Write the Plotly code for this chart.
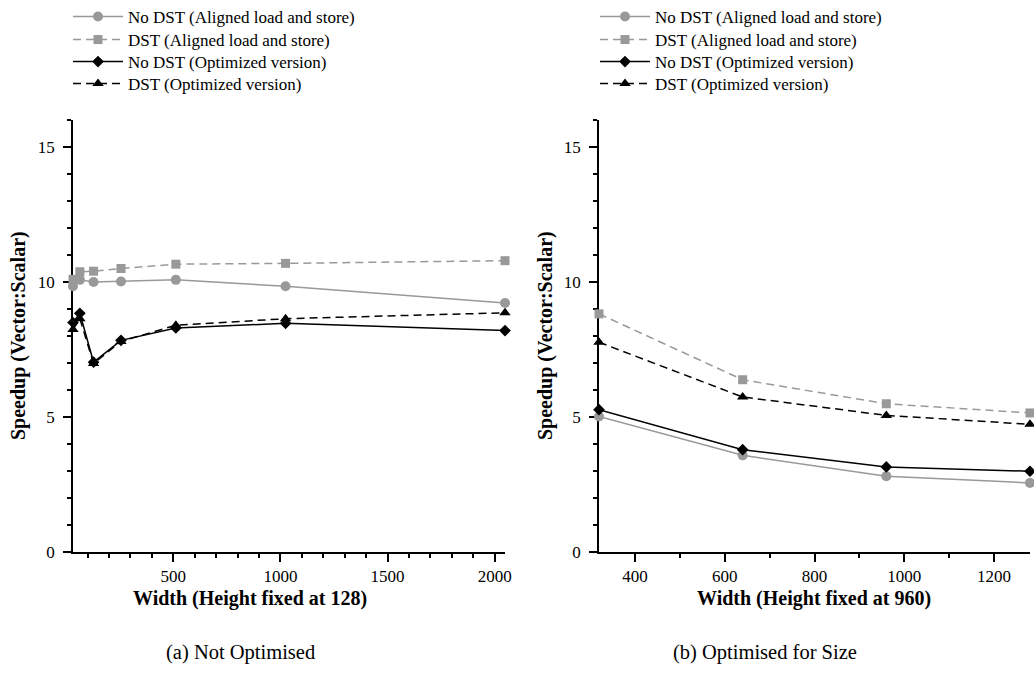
import plotly.graph_objects as go
from plotly.subplots import make_subplots

# Series names
series_names = [
    "No DST (Aligned load and store)",
    "DST (Aligned load and store)",
    "No DST (Optimized version)",
    "DST (Optimized version)",
]

# (a) Not Optimised: height fixed at 128
left_width = [32, 64, 128, 256, 512, 1024, 2048]
left_nodst_aligned = [9.84, 10.08, 10.0, 10.02, 10.08, 9.84, 9.22]
left_dst_aligned = [10.1, 10.38, 10.4, 10.5, 10.66, 10.69, 10.79]
left_nodst_opt = [8.5, 8.84, 7.03, 7.84, 8.3, 8.47, 8.2]
left_dst_opt = [8.24, 8.64, 6.98, 7.8, 8.4, 8.64, 8.86]

# (b) Optimised for Size: height fixed at 960
right_width = [320, 640, 960, 1280]
right_nodst_aligned = [5.02, 3.58, 2.81, 2.56]
right_dst_aligned = [8.82, 6.38, 5.49, 5.15]
right_nodst_opt = [5.27, 3.79, 3.15, 2.99]
right_dst_opt = [7.77, 5.74, 5.06, 4.73]

FONT = "Liberation Serif"
GRAY = "#999999"
BLACK = "#000000"
DASH = "8px,5px"

# Figure geometry (pixels)
W, H = 1034, 682
ML, MR, MT, MB = 73, 4, 120, 130
PW, PH = W - ML - MR, H - MT - MB


def px_x(p):
    return (p - ML) / PW


def px_y(p):
    return (H - MB - p) / PH


styles = [
    dict(color=GRAY, symbol="circle", size=10, dash="solid"),
    dict(color=GRAY, symbol="square", size=9, dash=DASH),
    dict(color=BLACK, symbol="diamond", size=9, dash="solid"),
    dict(color=BLACK, symbol="triangle-up", size=10, dash=DASH),
]

fig = make_subplots(rows=1, cols=2)

panels = [
    (1, 73, left_width,
     [left_nodst_aligned, left_dst_aligned, left_nodst_opt, left_dst_opt]),
    (2, 600, right_width,
     [right_nodst_aligned, right_dst_aligned, right_nodst_opt, right_dst_opt]),
]

# One single-entry legend per series so the row spacing can be set exactly
row_centers = [17, 40, 62, 84]
legend_layout = {}
k = 0
for col, lx, xs, ys_list in panels:
    for name, ys, st, ry in zip(series_names, ys_list, styles, row_centers):
        k += 1
        leg_id = "legend" if k == 1 else f"legend{k}"
        fig.add_trace(
            go.Scatter(
                x=xs, y=ys, name=name, mode="lines+markers",
                line=dict(color=st["color"], width=1.5, dash=st["dash"]),
                marker=dict(color=st["color"], symbol=st["symbol"], size=st["size"]),
                cliponaxis=False, legend=leg_id,
            ),
            row=1, col=col,
        )
        legend_layout[leg_id] = dict(
            xref="container", yref="container",
            x=(lx - 5) / W, y=1 - ry / H, xanchor="left", yanchor="middle",
            font=dict(family=FONT, size=17, color="black"),
            bgcolor="rgba(0,0,0,0)", itemwidth=50,
        )

axis_common = dict(
    showline=True, linecolor="black", linewidth=1.5, showgrid=False,
    zeroline=False, ticks="outside", tickcolor="black", tickwidth=1.5,
    ticklen=8, layer="below traces",
    tickfont=dict(family=FONT, size=17, color="black"),
)

fig.update_xaxes(**axis_common)
fig.update_yaxes(**axis_common, ticklabelstandoff=5)

minor_x = dict(dtick=100, tick0=0, ticks="outside", ticklen=4,
               tickcolor="black", tickwidth=1.5, showgrid=False)
fig.update_xaxes(range=[32, 2048], tick0=0, dtick=500, minor=minor_x,
                 domain=[0, px_x(505)], row=1, col=1)
fig.update_xaxes(range=[320, 1280], tick0=0, dtick=200, minor=minor_x,
                 domain=[px_x(599), 1], row=1, col=2)
fig.update_yaxes(range=[0, 16], tick0=0, dtick=5,
                 minor=dict(dtick=1, tick0=0, ticks="outside", ticklen=4,
                            tickcolor="black", tickwidth=1.5, showgrid=False))

ann_out = []
for text, cx, cy, ang in [
    ("<b>Width (Height fixed at 128)</b>", 250, 598, 0),
    ("<b>Width (Height fixed at 960)</b>", 814, 598, 0),
    ("<b>Speedup (Vector:Scalar)</b>", 18, 336, -90),
    ("<b>Speedup (Vector:Scalar)</b>", 545, 336, -90),
]:
    ann_out.append(dict(
        text=text, xref="paper", yref="paper", x=px_x(cx), y=px_y(cy),
        showarrow=False, textangle=ang,
        font=dict(family=FONT, size=20, color="black"),
        xanchor="center", yanchor="middle",
    ))
for text, cx in [("(a) Not Optimised", 240), ("(b) Optimised for Size", 765)]:
    ann_out.append(dict(
        text=text, xref="paper", yref="paper", x=px_x(cx), y=px_y(652),
        showarrow=False, font=dict(family=FONT, size=20.5, color="black"),
        xanchor="center", yanchor="middle",
    ))

fig.update_layout(
    width=W, height=H,
    margin=dict(l=ML, r=MR, t=MT, b=MB, autoexpand=False),
    paper_bgcolor="white", plot_bgcolor="white",
    showlegend=True,
    annotations=ann_out,
    font=dict(family=FONT, color="black"),
    **legend_layout,
)

fig.write_html("out.html")
